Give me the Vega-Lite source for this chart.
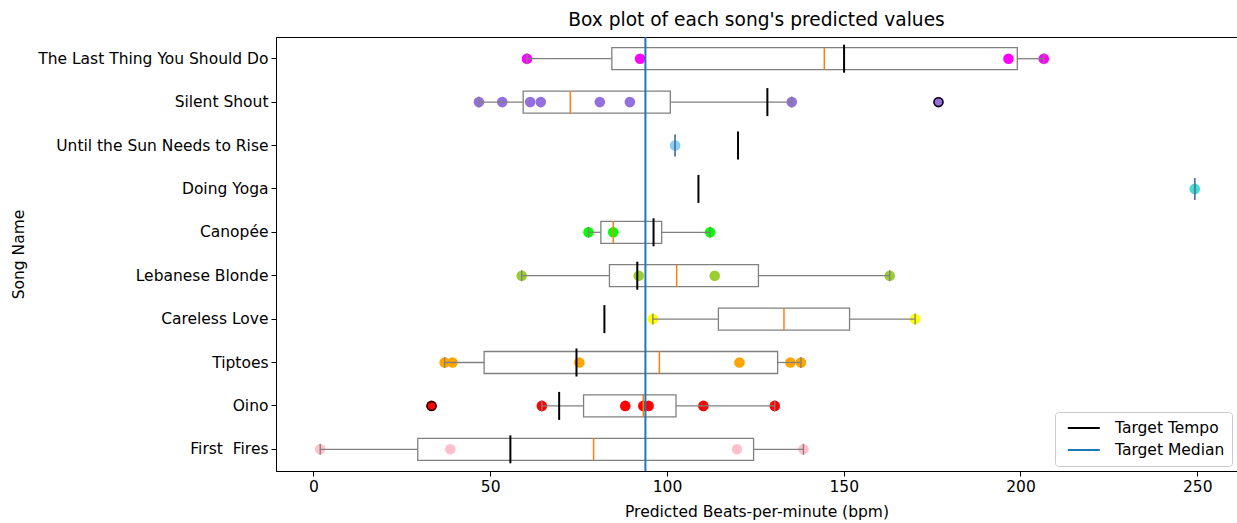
{
  "$schema": "https://vega.github.io/schema/vega-lite/v6.json",
  "width": 961,
  "height": 434,
  "autosize": {"type": "none"},
  "padding": {"left": 276, "top": 37, "right": 0, "bottom": 52},
  "background": "white",
  "config": {
    "font": "DejaVu Sans",
    "view": {"stroke": "black", "strokeWidth": 1},
    "axis": {
      "labelFont": "DejaVu Sans",
      "titleFont": "DejaVu Sans",
      "labelFontSize": 15.5,
      "titleFontSize": 15.5,
      "titleFontWeight": "normal",
      "labelColor": "black",
      "titleColor": "black",
      "tickColor": "black",
      "domainColor": "black",
      "tickSize": 5,
      "grid": false,
      "labelLimit": 0
    },
    "legend": {"labelFont": "DejaVu Sans"}
  },
  "title": {
    "text": "Box plot of each song's predicted values",
    "fontSize": 18.6,
    "fontWeight": "normal",
    "font": "DejaVu Sans",
    "color": "black",
    "offset": 6
  },
  "datasets": {
    "preds": [
      {"song": "The Last Thing You Should Do", "bpm": 60.4},
      {"song": "The Last Thing You Should Do", "bpm": 92.4},
      {"song": "The Last Thing You Should Do", "bpm": 196.6},
      {"song": "The Last Thing You Should Do", "bpm": 206.6},
      {"song": "Silent Shout", "bpm": 46.8},
      {"song": "Silent Shout", "bpm": 53.4},
      {"song": "Silent Shout", "bpm": 61.3},
      {"song": "Silent Shout", "bpm": 64.3},
      {"song": "Silent Shout", "bpm": 81.0},
      {"song": "Silent Shout", "bpm": 89.5},
      {"song": "Silent Shout", "bpm": 135.3},
      {"song": "Silent Shout", "bpm": 176.8},
      {"song": "Until the Sun Needs to Rise", "bpm": 102.3},
      {"song": "Doing Yoga", "bpm": 249.3},
      {"song": "Canopée", "bpm": 77.8},
      {"song": "Canopée", "bpm": 84.8},
      {"song": "Canopée", "bpm": 112.2},
      {"song": "Lebanese Blonde", "bpm": 58.9},
      {"song": "Lebanese Blonde", "bpm": 92.0},
      {"song": "Lebanese Blonde", "bpm": 113.5},
      {"song": "Lebanese Blonde", "bpm": 163.0},
      {"song": "Careless Love", "bpm": 96.0},
      {"song": "Careless Love", "bpm": 170.2},
      {"song": "Tiptoes", "bpm": 37.1},
      {"song": "Tiptoes", "bpm": 39.3},
      {"song": "Tiptoes", "bpm": 75.2},
      {"song": "Tiptoes", "bpm": 120.5},
      {"song": "Tiptoes", "bpm": 134.9},
      {"song": "Tiptoes", "bpm": 137.9},
      {"song": "Oino", "bpm": 33.4},
      {"song": "Oino", "bpm": 64.6},
      {"song": "Oino", "bpm": 88.2},
      {"song": "Oino", "bpm": 93.3},
      {"song": "Oino", "bpm": 94.8},
      {"song": "Oino", "bpm": 110.3},
      {"song": "Oino", "bpm": 130.5},
      {"song": "First  Fires", "bpm": 1.9},
      {"song": "First  Fires", "bpm": 38.7},
      {"song": "First  Fires", "bpm": 119.8},
      {"song": "First  Fires", "bpm": 138.6}
    ],
    "targets": [
      {"song": "The Last Thing You Should Do", "target": 150.1},
      {"song": "Silent Shout", "target": 128.4},
      {"song": "Until the Sun Needs to Rise", "target": 120.1},
      {"song": "Doing Yoga", "target": 108.9},
      {"song": "Canopée", "target": 96.2},
      {"song": "Lebanese Blonde", "target": 91.6},
      {"song": "Careless Love", "target": 82.3},
      {"song": "Tiptoes", "target": 74.4},
      {"song": "Oino", "target": 69.5},
      {"song": "First  Fires", "target": 55.7}
    ]
  },
  "layer": [
    {
      "data": {"name": "preds"},
      "mark": {"type": "circle", "size": 112, "opacity": 1},
      "encoding": {
        "x": {
          "field": "bpm",
          "type": "quantitative",
          "scale": {"domain": [-10.6, 261.25], "nice": false, "zero": false},
          "axis": {"values": [0, 50, 100, 150, 200, 250], "labelPadding": 3, "titlePadding": 10, "labelFlush": false},
          "title": "Predicted Beats-per-minute (bpm)"
        },
        "y": {
          "field": "song",
          "type": "nominal",
          "sort": ["The Last Thing You Should Do", "Silent Shout", "Until the Sun Needs to Rise", "Doing Yoga", "Canopée", "Lebanese Blonde", "Careless Love", "Tiptoes", "Oino", "First  Fires"],
          "scale": {"paddingInner": 0, "paddingOuter": 0},
          "axis": {"labelPadding": 3, "titleX": -250, "labelExpr": "replace(datum.label, '  ', ' \u00a0')"},
          "title": "Song Name"
        },
        "fill": {
          "field": "song",
          "type": "nominal",
          "scale": {
            "domain": ["The Last Thing You Should Do", "Silent Shout", "Until the Sun Needs to Rise", "Doing Yoga", "Canopée", "Lebanese Blonde", "Careless Love", "Tiptoes", "Oino", "First  Fires"],
            "range": ["#ff00ff", "#9370db", "#87cefa", "#40e0d0", "#00ff00", "#9acd32", "#ffff00", "#ffa500", "#ff0000", "#ffc0cb"]
          },
          "legend": null
        }
      }
    },
    {
      "data": {"name": "preds"},
      "mark": {
        "type": "boxplot",
        "extent": 1.5,
        "size": 22,
        "box": {"color": "white", "fillOpacity": 0, "stroke": "gray", "strokeWidth": 1.3},
        "median": {"color": "#ff7f0e", "thickness": 1.5, "opacity": 1},
        "rule": {"color": "gray", "strokeWidth": 1.3},
        "ticks": {"color": "gray", "size": 11, "thickness": 1.3},
        "outliers": {"filled": false, "color": "black", "size": 80, "strokeWidth": 1.5, "opacity": 1}
      },
      "encoding": {
        "x": {"field": "bpm", "type": "quantitative", "title": "Predicted Beats-per-minute (bpm)"},
        "y": {
          "field": "song",
          "type": "nominal",
          "title": "Song Name",
          "sort": ["The Last Thing You Should Do", "Silent Shout", "Until the Sun Needs to Rise", "Doing Yoga", "Canopée", "Lebanese Blonde", "Careless Love", "Tiptoes", "Oino", "First  Fires"]
        }
      }
    },
    {
      "data": {"name": "targets"},
      "mark": {"type": "tick", "thickness": 2, "size": 28, "opacity": 1},
      "encoding": {
        "x": {"field": "target", "type": "quantitative", "title": "Predicted Beats-per-minute (bpm)"},
        "y": {
          "field": "song",
          "type": "nominal",
          "title": "Song Name",
          "sort": ["The Last Thing You Should Do", "Silent Shout", "Until the Sun Needs to Rise", "Doing Yoga", "Canopée", "Lebanese Blonde", "Careless Love", "Tiptoes", "Oino", "First  Fires"]
        },
        "color": {
          "datum": "Target Tempo",
          "scale": {"domain": ["Target Tempo", "Target Median"], "range": ["black", "#1f77b4"]},
          "legend": {
            "title": null,
            "orient": "bottom-right",
            "offset": 5,
            "symbolType": "M-0.4,0H3.6",
            "symbolSize": 256,
            "symbolStrokeWidth": 2,
            "labelFontSize": 15.5,
            "labelColor": "black",
            "padding": 7,
            "rowPadding": 4,
            "strokeColor": "#cccccc",
            "fillColor": "white",
            "cornerRadius": 3,
            "labelOffset": 35,
            "encode": {"symbols": {"update": {"stroke": {"scale": "color", "field": "value"}, "fill": {"value": "transparent"}, "strokeWidth": {"value": 2}, "opacity": {"value": 1}}}}
          }
        }
      }
    },
    {
      "data": {"name": "targets"},
      "mark": {"type": "rule", "strokeWidth": 2, "opacity": 1},
      "encoding": {
        "x": {"aggregate": "median", "field": "target", "type": "quantitative", "title": "Predicted Beats-per-minute (bpm)"},
        "color": {"datum": "Target Median"}
      }
    }
  ]
}
